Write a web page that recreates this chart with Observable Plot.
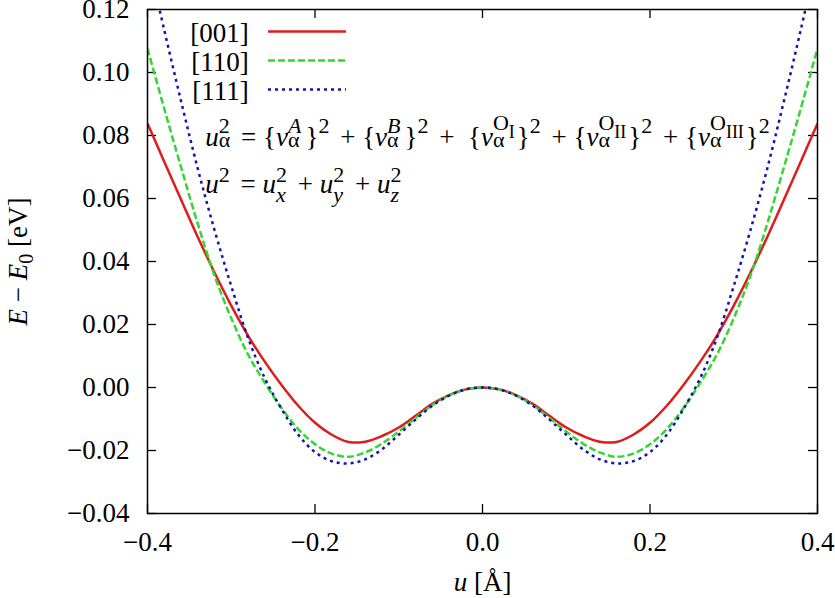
<!DOCTYPE html>
<html>
<head>
<meta charset="utf-8">
<script src="https://cdn.jsdelivr.net/npm/d3@7"></script>
<script src="https://cdn.jsdelivr.net/npm/@observablehq/plot@0.6"></script>
<style>
  html, body { margin: 0; padding: 0; background: #fff; }
  svg text, svg tspan { white-space: pre; font-family: "Liberation Serif", "Times New Roman", serif !important; }
</style>
</head>
<body>
<div id="chart"></div>
<script>
// ---- data ----
const uValues = [-0.40,-0.38,-0.36,-0.34,-0.32,-0.30,-0.28,-0.26,-0.24,-0.22,-0.20,-0.18,-0.16,-0.14,-0.12,-0.10,-0.08,-0.06,-0.04,-0.02,0.00,
                  0.02,0.04,0.06,0.08,0.10,0.12,0.14,0.16,0.18,0.20,0.22,0.24,0.26,0.28,0.30,0.32,0.34,0.36,0.38,0.40];
const e001 = [0.0838,0.0717,0.0597,0.0478,0.0365,0.0260,0.0165,0.0082,0.0008,-0.0058,-0.0112,-0.0150,-0.0173,-0.0172,-0.0154,-0.0127,-0.0090,-0.0052,-0.0024,-0.0006,0,
              -0.0006,-0.0024,-0.0052,-0.0090,-0.0127,-0.0154,-0.0172,-0.0173,-0.0150,-0.0112,-0.0058,0.0008,0.0082,0.0165,0.0260,0.0365,0.0478,0.0597,0.0717,0.0838];
const e110 = [0.1076,0.0885,0.0700,0.0520,0.0355,0.0220,0.0105,0.0015,-0.0065,-0.0132,-0.0180,-0.0210,-0.0220,-0.0206,-0.0178,-0.0140,-0.0097,-0.0056,-0.0025,-0.0006,0,
              -0.0006,-0.0025,-0.0056,-0.0097,-0.0140,-0.0178,-0.0206,-0.0220,-0.0210,-0.0180,-0.0132,-0.0065,0.0015,0.0105,0.0220,0.0355,0.0520,0.0700,0.0885,0.1076];
const e111 = [0.1370,0.1135,0.0910,0.0695,0.0500,0.0322,0.0158,0.0030,-0.0068,-0.0150,-0.0205,-0.0234,-0.0241,-0.0228,-0.0196,-0.0150,-0.0102,-0.0058,-0.0026,-0.0006,0,
              -0.0006,-0.0026,-0.0058,-0.0102,-0.0150,-0.0196,-0.0228,-0.0241,-0.0234,-0.0205,-0.0150,-0.0068,0.0030,0.0158,0.0322,0.0500,0.0695,0.0910,0.1135,0.1370];
const seriesNames = ["[001]", "[110]", "[111]"];
const xTicks = [-0.4, -0.2, 0.0, 0.2, 0.4];
const yTicks = [-0.04, -0.02, 0.00, 0.02, 0.04, 0.06, 0.08, 0.10, 0.12];
const xLabel = "u [Å]";
const yLabel = "E − E0 [eV]";
const note1 = "u2α = {vAα}2 + {vBα}2 +  {vOIα}2 + {vOIIα}2 + {vOIIIα}2";
const note2 = "u2 = ux2 + uy2 + uz2";

// ---- styling / layout ----
const colors = ["#e01b1b", "#33d633", "#1414ac"];
const dashes = [null, "7,3", "3,4"];
const W = 835, H = 598, mL = 147, mR = 18, mT = 9, mB = 85;
const innerW = W - mL - mR, innerH = H - mT - mB, tick = 9;
const FS = 27, SFS = 22;
const FONT = "Liberation Serif, Times New Roman, serif";
const legendPos = {xText: -0.279, x1: -0.2555, x2: -0.1624, y: [0.1130, 0.1038, 0.0946]};
const notePos = [{x: -0.331, y: 0.0768}, {x: -0.331, y: 0.0616}];

const rows = seriesNames.map((s, k) => uValues.map((u, i) => ({u, e: [e001, e110, e111][k][i], s})));
const fmt = (d, n) => d.toFixed(n).replace("-", "−");

const lineMarks = rows.map((r, k) => Plot.line(r, {
  x: "u", y: "e", stroke: colors[k], strokeWidth: 2.5, curve: "catmull-rom",
  strokeDasharray: dashes[k], clip: true, strokeLinecap: "butt"
}));

const legendMarks = seriesNames.flatMap((s, k) => [
  Plot.text([s], {x: legendPos.xText, y: legendPos.y[k], text: d => d, textAnchor: "end", dy: 2, fontSize: FS, fontFamily: FONT}),
  Plot.ruleY([legendPos.y[k]], {x1: legendPos.x1, x2: legendPos.x2, stroke: colors[k], strokeWidth: 2.5, strokeDasharray: dashes[k]})
]);

const plot = Plot.plot({
  width: W, height: H,
  marginLeft: mL, marginRight: mR, marginTop: mT, marginBottom: mB,
  style: {fontFamily: FONT, fontSize: FS + "px", background: "#fff", color: "#000"},
  x: {domain: [-0.4, 0.4]},
  y: {domain: [-0.04, 0.12]},
  marks: [
    Plot.axisX(xTicks, {tickSize: 0, tickPadding: 18, tickFormat: d => fmt(d, 1), label: null, fontSize: FS, fontFamily: FONT}),
    Plot.axisY(yTicks, {tickSize: 0, tickPadding: 18, tickFormat: d => fmt(d, 2), label: null, fontSize: FS, fontFamily: FONT}),
    Plot.tickY(yTicks, {y: d => d, insetRight: innerW - tick, stroke: "#000", strokeWidth: 1.3}),
    Plot.tickY(yTicks, {y: d => d, insetLeft: innerW - tick, stroke: "#000", strokeWidth: 1.3}),
    Plot.tickX(xTicks, {x: d => d, insetTop: innerH - tick, stroke: "#000", strokeWidth: 1.3}),
    Plot.tickX(xTicks, {x: d => d, insetBottom: innerH - tick, stroke: "#000", strokeWidth: 1.3}),
    ...lineMarks,
    Plot.frame({stroke: "#000", strokeWidth: 1.5}),
    ...legendMarks,
    Plot.text([note1], {x: notePos[0].x, y: notePos[0].y, text: d => d, textAnchor: "start", lineAnchor: "bottom", fontSize: FS, fontFamily: FONT}),
    Plot.text([note2], {x: notePos[1].x, y: notePos[1].y, text: d => d, textAnchor: "start", lineAnchor: "bottom", fontSize: FS, fontFamily: FONT}),
    Plot.text([xLabel], {frameAnchor: "bottom", dy: 77, text: d => d, textAnchor: "middle", lineAnchor: "bottom", fontSize: FS, fontFamily: FONT}),
    Plot.text([yLabel], {frameAnchor: "left", dx: -129, rotate: -90, text: d => d, textAnchor: "middle", lineAnchor: "middle", fontSize: FS, fontFamily: FONT})
  ]
});
document.getElementById("chart").appendChild(plot);

// ---- rich text (super/subscripts) as tspans ----
const NS = "http://www.w3.org/2000/svg";
function rich(content, segs) {
  const el = Array.from(plot.querySelectorAll("text")).find(t => t.textContent === content);
  if (!el) return;
  el.textContent = "";
  let cur = 0, pending = 0, prevW = 0;
  for (const s of segs) {
    const t = document.createElementNS(NS, "tspan");
    const lvl = s.l || 0;
    t.setAttribute("font-size", s.f || (lvl ? SFS : FS));
    t.setAttribute("font-style", s.i ? "italic" : "normal");
    let dx = pending; pending = 0;
    if (s.st) dx -= prevW;
    if (dx) t.setAttribute("dx", dx.toFixed(2));
    if (lvl !== cur) t.setAttribute("dy", cur - lvl);
    cur = lvl;
    t.textContent = s.t;
    el.appendChild(t);
    const w = t.getComputedTextLength();
    if (s.st && prevW > w) pending = prevW - w;
    if (s.a) pending += s.a;
    prevW = w;
  }
}
const SUP = 13, SUBA = -1, GAP = 4;
function vTerm(sup, supIt, sub) {
  const a = [{t: "v", i: true}];
  if (sub) {
    a.push({t: sup, l: 16});
    a.push({t: "α", l: SUBA, st: true});
    a.push({t: sub, l: 8, f: 18, a: 2});
  } else {
    a.push({t: sup, l: SUP, i: supIt});
    a.push({t: "α", l: SUBA, st: true, a: GAP});
  }
  return a;
}
rich(note1, [
  {t: "u", i: true}, {t: "2", l: SUP}, {t: "α", l: SUBA, st: true, a: GAP},
  {t: " = {"}, ...vTerm("A", true), {t: "}"}, {t: "2", l: SUP, a: GAP},
  {t: " + {"}, ...vTerm("B", true), {t: "}"}, {t: "2", l: SUP, a: GAP},
  {t: " +  {"}, ...vTerm("O", false, "I"), {t: "}"}, {t: "2", l: SUP, a: GAP},
  {t: " + {"}, ...vTerm("O", false, "II"), {t: "}"}, {t: "2", l: SUP, a: GAP},
  {t: " + {"}, ...vTerm("O", false, "III"), {t: "}"}, {t: "2", l: SUP}
]);
rich(note2, [
  {t: "u", i: true}, {t: "2", l: 11, a: GAP},
  {t: " = "}, {t: "u", i: true}, {t: "2", l: 11}, {t: "x", l: -9, i: true, st: true, a: GAP},
  {t: " + "}, {t: "u", i: true}, {t: "2", l: 11}, {t: "y", l: -9, i: true, st: true, a: GAP},
  {t: " + "}, {t: "u", i: true}, {t: "2", l: 11}, {t: "z", l: -9, i: true, st: true}
]);
rich(xLabel, [{t: "u", i: true}, {t: " [Å]"}]);
rich(yLabel, [{t: "E", i: true}, {t: " − "}, {t: "E", i: true}, {t: "0", l: -6, f: 20}, {t: " [eV]"}]);
</script>
</body>
</html>
